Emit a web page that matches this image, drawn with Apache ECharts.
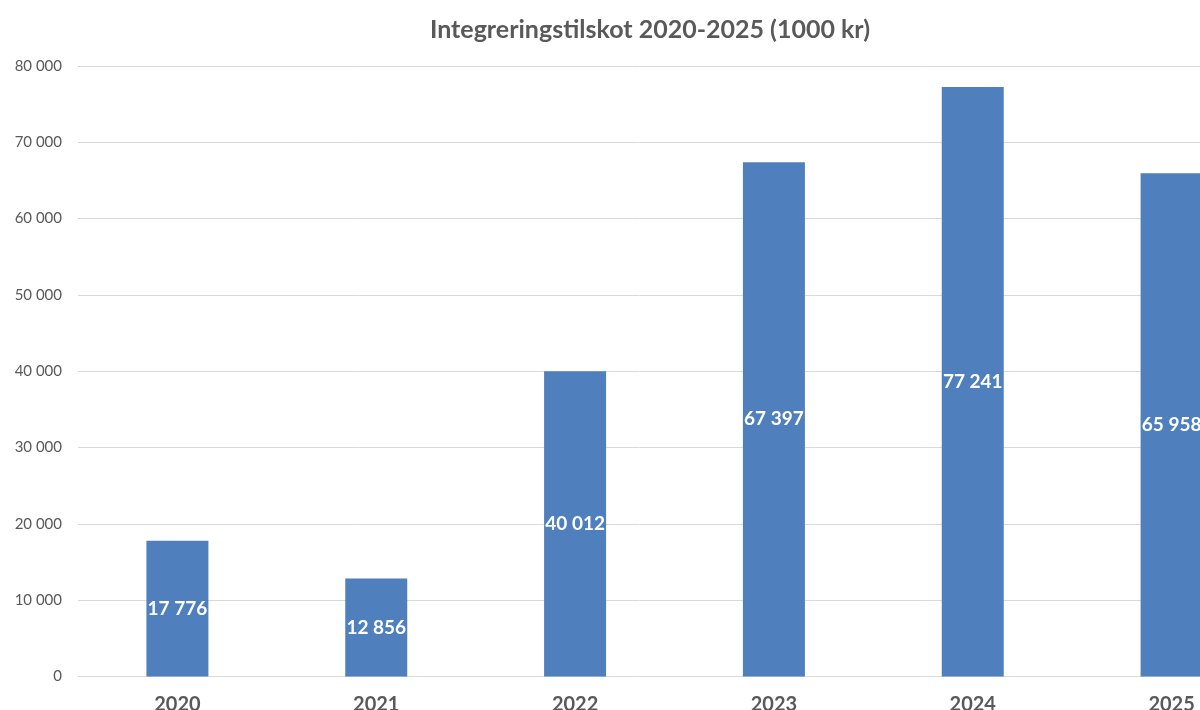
<!DOCTYPE html>
<html>
<head>
<meta charset="utf-8">
<script src="https://cdn.jsdelivr.net/npm/echarts@6/dist/echarts.min.js"></script>
<style>
  html, body { margin: 0; padding: 0; background: #fff; }
  #main { width: 1200px; height: 710px; }
</style>
</head>
<body>
<div id="main"></div>
<script>
var years = ['2020', '2021', '2022', '2023', '2024', '2025'];
var values = [17776, 12856, 40012, 67397, 77241, 65958];

function fmt(v) {
  return String(v).replace(/\B(?=(\d{3})+(?!\d))/g, ' ');
}

var chartDom = document.getElementById('main');
var myChart = echarts.init(chartDom);
var option;

option = {
  animation: false,
  title: {
    text: 'Integreringstilskot 2020-2025 (1000 kr)',
    left: 645,
    top: 12,
    textAlign: 'center',
    textStyle: {
      fontFamily: 'Lato',
      fontSize: 25,
      fontWeight: 'bold',
      color: '#595959'
    }
  },
  grid: {
    left: 78,
    top: 66,
    right: -71,
    bottom: 33.5,
    outerBoundsMode: 'none'
  },
  xAxis: {
    type: 'category',
    data: years,
    axisTick: { show: false },
    axisLine: { lineStyle: { color: '#d9d9d9' } },
    axisLabel: {
      margin: 18,
      fontFamily: 'Lato',
      fontSize: 20,
      fontWeight: 'bold',
      color: '#595959'
    }
  },
  yAxis: {
    type: 'value',
    min: 0,
    max: 80000,
    interval: 10000,
    axisLabel: {
      margin: 16,
      fontFamily: 'Lato',
      fontSize: 15,
      color: '#595959',
      formatter: fmt
    },
    splitLine: { lineStyle: { color: '#d9d9d9' } }
  },
  series: [
    {
      type: 'bar',
      data: values,
      barWidth: 62,
      itemStyle: { color: '#4f80bd' },
      label: {
        show: true,
        position: 'inside',
        fontFamily: 'Lato',
        fontSize: 19,
        fontWeight: 'bold',
        color: '#fff',
        formatter: function (p) { return fmt(p.value); }
      }
    }
  ]
};

option && myChart.setOption(option);
</script>
</body>
</html>
